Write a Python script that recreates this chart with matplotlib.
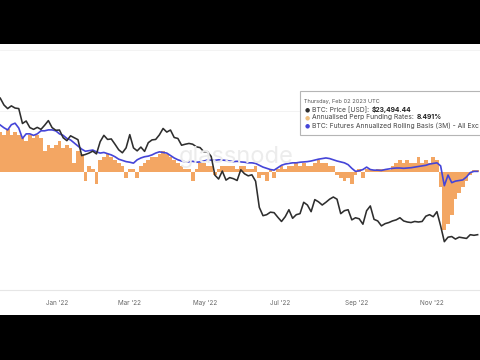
import numpy as np
import pandas as pd
import matplotlib
matplotlib.use("Agg")
import matplotlib.pyplot as plt
import matplotlib.dates as mdates
from matplotlib.patches import Rectangle

# ---------------- data (3-day samples starting 2021-11-16) ----------------
start_date = "2021-11-16"
step_days = 3

price_k = [63, 59, 57, 58.5, 57.3, 57, 49.4, 50.6, 47.5, 46.7, 47.6, 46.7, 48.6, 50.8, 47.5, 46.3,
           46.4, 43.1, 41.9, 43.9, 43.1, 42.3, 36.3, 36.7, 37.2, 37.9, 36.9, 41.5, 44.1, 42.4, 42.6,
           40.5, 38.4, 37.3, 39.1, 44.4, 39.1, 38.0, 39.4, 37.8, 41.1, 42.2, 42.4, 44.3, 47.1, 45.5,
           46.4, 43.2, 42.8, 40.1, 40.5, 40.8, 40.5, 39.5, 39.2, 37.7, 37.7, 36.0, 30.1, 29.0, 31.3,
           28.7, 29.4, 29.1, 28.6, 31.7, 30.5, 29.9, 30.2, 28.4, 22.1, 20.4, 20.6, 21.1, 21.0, 20.1,
           19.3, 20.2, 21.6, 19.9, 20.6, 20.8, 23.2, 22.6, 21.2, 23.8, 23.3, 22.6, 23.2, 23.9, 24.4,
           23.9, 20.8, 21.4, 21.6, 19.6, 20.0, 19.8, 18.8, 21.4, 22.4, 19.7, 19.4, 18.5, 18.9, 19.1,
           19.4, 19.6, 20.0, 19.4, 19.2, 19.1, 19.3, 19.2, 19.3, 20.3, 20.6, 20.2, 21.2, 18.5, 15.9,
           16.6, 16.7, 16.3, 16.6, 16.5, 16.4, 17.0, 16.9, 17.0]

funding_pct = [13, 12, 14, 12, 13, 12, 11, 10, 12, 11, 12, 11, 7, 9, 8, 9, 10, 8, 9, 8, 3, 7, 6,
               -3, 2, 1, -4, 4, 5, 6, 5, 4, 3, 2, -2, 1, 1, -2, 2, 3, 4, 5, 5, 6, 7, 6, 5, 4, 3,
               2, 1, 1, -3, 1, 3, 3, 2, 2, -1, 1, 2, 2, 2, 2, 1, 2, 2, 1, 1, 2, -2, -1, -3, 1, -2,
               1, 2, 1, 2, 2, 3, 2, 3, 2, 2, 3, 4, 3, 3, 2, 2, -1, -2, -3, -2, -4, -1, 1, -2, 1, 1,
               0.5, 1, 1, 1, 0.5, 2, 3, 4, 3, 4, 3, 3, 5, 3, 4, 3, 5, 4, -5, -19, -17, -14, -9, -7,
               -5, -3, -1, 0.5, 0.5]

basis_pct = [15.4, 14.5, 13.8, 15.5, 16, 14.4, 11, 12.5, 12.5, 12, 12.5, 13.5, 13.5, 13.8, 13.8,
             13.5, 12.5, 12, 11, 10.5, 9.5, 8.5, 7.5, 6.8, 7.0, 7.2, 6.6, 6.2, 6.4, 6.0, 5.6, 5.0,
             4.2, 3.8, 3.4, 3.2, 2.9, 4.0, 4.6, 5.0, 5.2, 5.6, 6.2, 6.6, 6.4, 6.2, 5.4, 4.6, 4.0,
             3.6, 3.3, 3.3, 3.5, 3.2, 3.3, 3.6, 3.9, 3.9, 3.8, 4.0, 3.9, 3.8, 3.6, 3.4, 3.5, 3.3,
             3.2, 3.0, 3.0, 2.8, 2.2, 1.6, 1.2, 0.8, 0.6, 1.4, 2.2, 2.6, 2.8, 3.0, 3.0, 3.2, 3.3,
             3.4, 3.6, 3.9, 4.2, 4.4, 4.6, 4.4, 4.0, 3.6, 3.3, 3.0, 2.4, 1.2, 0.2, 0.4, 0.8, 1.6,
             0.8, 0.6, 0.6, 0.5, 0.8, 1.0, 1.2, 1.3, 1.3, 1.2, 1.3, 1.4, 1.6, 1.8, 2.0, 2.2, 2.6,
             2.8, 3.0, 2.0, -4.5, -1.0, -3.5, -3.0, -2.8, -2.6, -1.6, -0.2, 0.2, 0.2]

tick_dates = ["2022-01-01", "2022-03-01", "2022-05-01", "2022-07-01", "2022-09-01", "2022-11-01"]
tick_labels = ["Jan '22", "Mar '22", "May '22", "Jul '22", "Sep '22", "Nov '22"]

tooltip_date = "Thursday, Feb 02 2023 UTC"
tooltip_rows = [("BTC: Price [USD]: ", "$23,494.44"),
                ("Annualised Perp Funding Rates: ", "8.491%"),
                ("BTC: Futures Annualized Rolling Basis (3M) - All Exc", "")]

# ---------------- styling ----------------
C_PRICE = "#2e2e2e"
C_FUND = "#f3a663"
C_BASIS = "#4545d8"
FONT = "Inter"

W, H = 480, 360
fig = plt.figure(figsize=(4.8, 3.6), dpi=100, facecolor="black")

def fy(y):  # pixel-from-top -> figure fraction
    return 1 - y / H

def fx(x):
    return x / W

# white panel between the black letterbox bars
fig.add_artist(Rectangle((0, fy(315)), 1, fy(44) - fy(315), transform=fig.transFigure,
                         facecolor="white", edgecolor="none", zorder=0))

# watermark (behind the plot)
fig.text(fx(236), fy(157), "glassnode", fontsize=17, color="#ececec",
         ha="center", va="center", family=FONT, zorder=0.5)

ax = fig.add_axes([0, fy(290), 1, fy(50) - fy(290)])
ax.set_facecolor("none")

dates = pd.date_range(start_date, periods=len(price_k), freq=f"{step_days}D")
x = mdates.date2num(dates)

ax.bar(x, funding_pct, width=step_days, color=C_FUND, linewidth=0, zorder=2)
ax.plot(x, basis_pct, color=C_BASIS, lw=1.2, zorder=3)
ax.set_ylim(-38.7, 40)
for g in (40, 20):
    ax.axhline(g, color="#f1f1f1", lw=0.6, zorder=1)

ax.set_xlim(mdates.date2num(pd.Timestamp("2021-11-15 19:00")),
            mdates.date2num(pd.Timestamp("2022-12-09 22:00")))

ax2 = ax.twinx()
ax2.set_yscale("log")
ax2.set_ylim(10000, 100000)
ax2.plot(x, np.array(price_k) * 1000, color=C_PRICE, lw=1.15, zorder=4)

for a in (ax, ax2):
    for s in ("top", "left", "right"):
        a.spines[s].set_visible(False)
    a.set_yticks([])
    a.yaxis.set_minor_locator(matplotlib.ticker.NullLocator())
ax2.spines["bottom"].set_visible(False)
ax.spines["bottom"].set_color("#e6e6e6")
ax.spines["bottom"].set_linewidth(0.8)

ax.set_xticks(mdates.date2num(pd.to_datetime(tick_dates)))
ax.set_xticklabels(tick_labels, fontsize=4.6, color="#666666", family=FONT)
ax.tick_params(axis="x", length=0, pad=7)

# tooltip box
fig.add_artist(Rectangle((fx(300), fy(135)), fx(200), fy(91) - fy(135), transform=fig.transFigure,
                         facecolor="white", edgecolor="#b5b5b5", lw=0.8, zorder=10))
fig.text(fx(304), fy(101), tooltip_date, fontsize=4.05, color="#555555", family=FONT,
         va="center", zorder=11)
fig.canvas.draw()
renderer = fig.canvas.get_renderer()
dot_colors = [C_PRICE, "#f0c080", C_BASIS]
row_y = [109.5, 117.5, 125.5]
for (label, val), col, yy in zip(tooltip_rows, dot_colors, row_y):
    fig.text(fx(307), fy(yy), "\u25CF", fontsize=4.2, color=col, va="center", ha="center",
             family="DejaVu Sans", zorder=11)
    t = fig.text(fx(312), fy(yy), label, fontsize=4.85, color="#444444", family=FONT,
                 va="center", zorder=11)
    if val:
        bb = t.get_window_extent(renderer=renderer)
        fig.text(bb.x1 / W + 0.002, fy(yy), val, fontsize=4.85, color="#222222",
                 fontweight="bold", family=FONT, va="center", zorder=11)

fig.savefig("out.png", dpi=100, facecolor="black")
